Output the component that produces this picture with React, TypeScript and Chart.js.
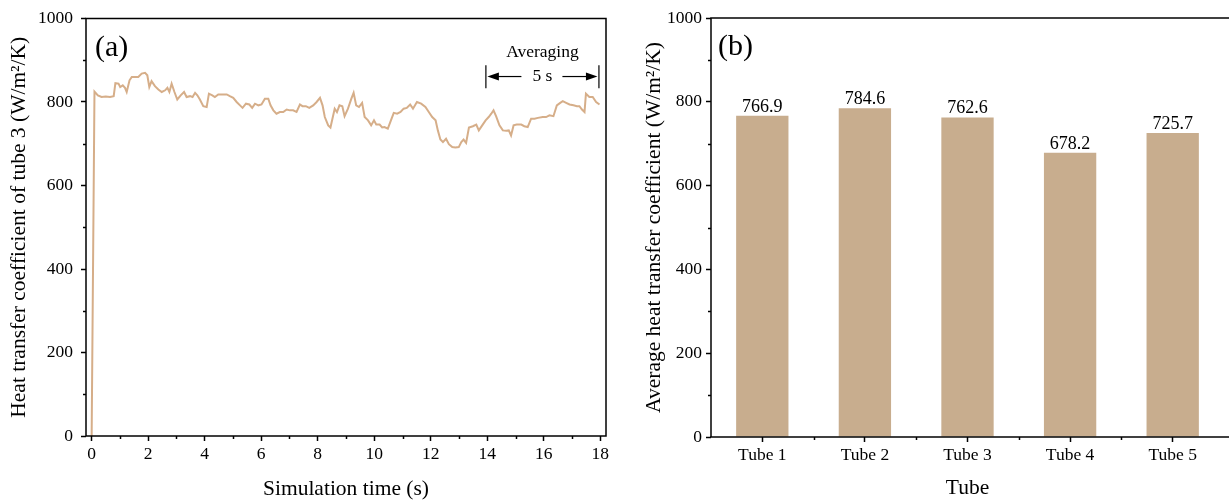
import React, { useEffect, useRef } from "react";
import { Chart, registerables } from "chart.js";

Chart.register(...registerables);

// ---------- data ----------
const TIME_S = [
  0.0, 0.1, 0.22, 0.35, 0.5, 0.65, 0.78, 0.84, 0.95, 1.01, 1.1, 1.18, 1.24, 1.34, 1.42, 1.54, 1.65, 1.77, 1.89, 1.97,
  2.04, 2.12, 2.24, 2.36, 2.48, 2.6, 2.68, 2.75, 2.83, 2.93, 3.03, 3.15, 3.27, 3.36, 3.48, 3.57, 3.66, 3.74, 3.83, 3.95,
  4.07, 4.15, 4.27, 4.36, 4.48, 4.66, 4.78, 4.89, 5.01, 5.13, 5.25, 5.34, 5.46, 5.58, 5.68, 5.78, 5.9, 6.01, 6.13, 6.25,
  6.33, 6.43, 6.54, 6.66, 6.78, 6.9, 7.02, 7.13, 7.25, 7.37, 7.46, 7.58, 7.7, 7.84, 7.96, 8.08, 8.17, 8.25, 8.37, 8.45,
  8.6, 8.68, 8.77, 8.87, 8.95, 9.07, 9.19, 9.27, 9.36, 9.46, 9.57, 9.66, 9.78, 9.89, 9.99, 10.07, 10.19, 10.28, 10.36, 10.48,
  10.6, 10.69, 10.81, 10.93, 11.04, 11.15, 11.27, 11.37, 11.51, 11.66, 11.81, 11.93, 12.05, 12.17, 12.25, 12.34, 12.43, 12.54, 12.64, 12.76,
  12.87, 12.99, 13.08, 13.16, 13.25, 13.35, 13.49, 13.61, 13.7, 13.82, 13.94, 14.05, 14.14, 14.22, 14.31, 14.43, 14.55, 14.67, 14.76, 14.84,
  14.93, 15.04, 15.2, 15.31, 15.43, 15.55, 15.67, 15.79, 15.96, 16.08, 16.2, 16.34, 16.46, 16.58, 16.67, 16.79, 16.91, 17.05, 17.17, 17.26,
  17.35, 17.44, 17.49, 17.61, 17.73, 17.85, 17.97,
];
const HTC_TUBE3 = [
  0, 825, 816, 812, 813, 812, 814, 845, 844, 836, 840, 834, 824, 852, 860, 860, 860, 868, 870, 864,
  836, 850, 838, 830, 824, 828, 834, 824, 844, 824, 806, 816, 824, 812, 814, 812, 822, 816, 806, 790,
  788, 820, 816, 812, 818, 818, 818, 814, 810, 800, 792, 786, 796, 794, 786, 796, 792, 794, 808, 808,
  792, 780, 772, 776, 776, 782, 780, 780, 776, 794, 790, 790, 786, 792, 800, 810, 792, 764, 744, 739,
  784, 776, 792, 790, 766, 784, 808, 822, 792, 788, 798, 764, 756, 744, 756, 746, 746, 739, 740, 736,
  758, 774, 772, 776, 784, 786, 794, 784, 800, 796, 788, 776, 764, 756, 732, 710, 704, 712, 699, 692,
  691, 692, 704, 710, 702, 739, 742, 746, 732, 744, 756, 764, 772, 780, 766, 744, 732, 731, 732, 720,
  744, 746, 746, 742, 740, 760, 760, 762, 764, 764, 768, 766, 792, 798, 802, 798, 794, 792, 790, 790,
  782, 776, 820, 812, 812, 800, 794,
];
const X_TICKS = [0, 2, 4, 6, 8, 10, 12, 14, 16, 18];
const X_MINOR = [1, 3, 5, 7, 9, 11, 13, 15, 17];
const Y_TICKS = [0, 200, 400, 600, 800, 1000];
const Y_MINOR = [100, 300, 500, 700, 900];

const TUBES = ["Tube 1", "Tube 2", "Tube 3", "Tube 4", "Tube 5"];
const AVG_HTC = [766.9, 784.6, 762.6, 678.2, 725.7];

// averaging window annotation (data units)
const AVG_WINDOW = [13.95, 17.95];
const AVG_BAR_RANGE = [833, 888];
const AVG_ARROW_Y = 861;
const AVG_TITLE_Y = 907;

// ---------- styles ----------
const FONT = "'Liberation Serif', 'Times New Roman', serif";
const LINE_COLOR = "#D6AE89";
const BAR_COLOR = "#C8AD8E";
const TICK_FONT = { family: FONT, size: 17.5 };
const TITLE_FONT = { family: FONT, size: 21.5, lineHeight: 1 };

Chart.defaults.font.family = FONT;
Chart.defaults.color = "#000";

function line(ctx: CanvasRenderingContext2D, x1: number, y1: number, x2: number, y2: number) {
  ctx.beginPath();
  ctx.moveTo(x1, y1);
  ctx.lineTo(x2, y2);
  ctx.stroke();
}

const plainNumber = (v: any) => String(v);

const leftDecor = {
  id: "leftDecor",
  afterDraw(chart: any) {
    const { ctx, chartArea } = chart;
    const { left, right, top, bottom } = chartArea;
    const xs = chart.scales.x;
    const ys = chart.scales.y;
    ctx.save();
    ctx.strokeStyle = "#000";
    ctx.fillStyle = "#000";
    ctx.lineWidth = 1.5;
    ctx.strokeRect(left, top, right - left, bottom - top);
    for (const v of Y_MINOR) {
      const py = Math.round(ys.getPixelForValue(v)) + 0.5;
      line(ctx, left - 3, py, left, py);
    }
    for (const v of X_MINOR) {
      const px = Math.round(xs.getPixelForValue(v)) + 0.5;
      line(ctx, px, bottom, px, bottom + 3);
    }
    // panel letter
    ctx.font = `30px ${FONT}`;
    ctx.textAlign = "left";
    ctx.textBaseline = "alphabetic";
    ctx.fillText("(a)", left + 9, top + 37);

    // averaging annotation
    const x0 = xs.getPixelForValue(AVG_WINDOW[0]);
    const x1 = xs.getPixelForValue(AVG_WINDOW[1]);
    const xm = (x0 + x1) / 2;
    const yT = ys.getPixelForValue(AVG_BAR_RANGE[1]);
    const yB = ys.getPixelForValue(AVG_BAR_RANGE[0]);
    const yM = ys.getPixelForValue(AVG_ARROW_Y);
    const yTitle = ys.getPixelForValue(AVG_TITLE_Y);
    ctx.lineWidth = 1.2;
    line(ctx, x0, yT, x0, yB);
    line(ctx, x1, yT, x1, yB);
    line(ctx, x0 + 8, yM, xm - 21, yM);
    line(ctx, xm + 20, yM, x1 - 8, yM);
    ctx.beginPath();
    ctx.moveTo(x0 + 1.5, yM);
    ctx.lineTo(x0 + 13, yM - 4);
    ctx.lineTo(x0 + 13, yM + 4);
    ctx.closePath();
    ctx.fill();
    ctx.beginPath();
    ctx.moveTo(x1 - 1.5, yM);
    ctx.lineTo(x1 - 13, yM - 4);
    ctx.lineTo(x1 - 13, yM + 4);
    ctx.closePath();
    ctx.fill();
    ctx.font = `17.5px ${FONT}`;
    ctx.textAlign = "center";
    ctx.textBaseline = "alphabetic";
    ctx.fillText("Averaging", xm, yTitle);
    ctx.textBaseline = "middle";
    ctx.fillText("5 s", xm, yM);
    ctx.restore();
  },
};

const rightDecor = {
  id: "rightDecor",
  afterDatasetsDraw(chart: any) {
    const { ctx } = chart;
    const meta = chart.getDatasetMeta(0);
    ctx.save();
    ctx.fillStyle = "#000";
    ctx.font = `18px ${FONT}`;
    ctx.textAlign = "center";
    ctx.textBaseline = "alphabetic";
    meta.data.forEach((el: any, i: number) => {
      ctx.fillText(AVG_HTC[i].toFixed(1), el.x, el.y - 4);
    });
    ctx.restore();
  },
  afterDraw(chart: any) {
    const { ctx, chartArea, width } = chart;
    const { left, top, bottom } = chartArea;
    const xs = chart.scales.x;
    const ys = chart.scales.y;
    ctx.save();
    ctx.strokeStyle = "#000";
    ctx.fillStyle = "#000";
    ctx.lineWidth = 1.5;
    line(ctx, left, top, left, bottom);
    line(ctx, left - 0.75, top, width, top);
    line(ctx, left - 0.75, bottom, width, bottom);
    for (const v of Y_MINOR) {
      const py = Math.round(ys.getPixelForValue(v)) + 0.5;
      line(ctx, left - 3, py, left, py);
    }
    for (let i = 0; i < TUBES.length - 1; i++) {
      const px = Math.round((xs.getPixelForValue(i) + xs.getPixelForValue(i + 1)) / 2) + 0.5;
      line(ctx, px, bottom, px, bottom + 3);
    }
    ctx.font = `30px ${FONT}`;
    ctx.textAlign = "left";
    ctx.textBaseline = "alphabetic";
    ctx.fillText("(b)", left + 7, top + 37);
    ctx.restore();
  },
};

const tickGrid = {
  drawOnChartArea: false,
  drawTicks: true,
  tickLength: 5,
  tickWidth: 1.5,
  tickColor: "#000",
};

function leftConfig(): any {
  return {
    type: "line",
    data: {
      datasets: [
        {
          data: TIME_S.map((t, i) => ({ x: t, y: HTC_TUBE3[i] })),
          borderColor: LINE_COLOR,
          borderWidth: 2,
          pointRadius: 0,
          fill: false,
          tension: 0,
        },
      ],
    },
    options: {
      animation: false,
      responsive: false,
      layout: { padding: { top: 18, right: 14, left: 0, bottom: 0 } },
      plugins: { legend: { display: false }, tooltip: { enabled: false } },
      scales: {
        x: {
          type: "linear",
          min: -0.2,
          max: 18.2,
          afterBuildTicks: (s: any) => {
            s.ticks = X_TICKS.map((v) => ({ value: v }));
          },
          afterFit: (s: any) => {
            s.height = 64;
          },
          grid: { ...tickGrid, offset: false },
          border: { display: false },
          ticks: { color: "#000", font: TICK_FONT, padding: 3, maxRotation: 0, autoSkip: false, callback: plainNumber },
          title: {
            display: true,
            text: "Simulation time (s)",
            color: "#000",
            font: TITLE_FONT,
            padding: { top: 0, bottom: 0 },
          },
        },
        y: {
          min: 0,
          max: 1000,
          afterBuildTicks: (s: any) => {
            s.ticks = Y_TICKS.map((v) => ({ value: v }));
          },
          afterFit: (s: any) => {
            s.width = 86;
          },
          grid: tickGrid,
          border: { display: false },
          ticks: { color: "#000", font: TICK_FONT, padding: 8, callback: plainNumber },
          title: {
            display: true,
            text: "Heat transfer coefficient of tube 3 (W/m\u00B2/K)",
            color: "#000",
            font: TITLE_FONT,
            padding: { top: 9, bottom: 0 },
          },
        },
      },
    },
    plugins: [leftDecor],
  };
}

function rightConfig(): any {
  return {
    type: "bar",
    data: {
      labels: TUBES,
      datasets: [
        {
          data: AVG_HTC,
          backgroundColor: BAR_COLOR,
          borderWidth: 0,
          barPercentage: 0.51,
          categoryPercentage: 1,
        },
      ],
    },
    options: {
      animation: false,
      responsive: false,
      layout: { padding: { top: 18, right: 5, left: 0, bottom: 0 } },
      plugins: { legend: { display: false }, tooltip: { enabled: false } },
      scales: {
        x: {
          type: "category",
          offset: true,
          afterFit: (s: any) => {
            s.height = 63;
          },
          grid: { ...tickGrid, offset: false },
          border: { display: false },
          ticks: { color: "#000", font: TICK_FONT, padding: 3, maxRotation: 0, autoSkip: false },
          title: {
            display: true,
            text: "Tube",
            color: "#000",
            font: TITLE_FONT,
            padding: { top: 0, bottom: 1 },
          },
        },
        y: {
          min: 0,
          max: 1000,
          afterBuildTicks: (s: any) => {
            s.ticks = Y_TICKS.map((v) => ({ value: v }));
          },
          afterFit: (s: any) => {
            s.width = 81;
          },
          grid: tickGrid,
          border: { display: false },
          ticks: { color: "#000", font: TICK_FONT, padding: 4, callback: plainNumber },
          title: {
            display: true,
            text: "Average heat transfer coefficient (W/m\u00B2/K)",
            color: "#000",
            font: TITLE_FONT,
            padding: { top: 14, bottom: 0 },
          },
        },
      },
    },
    plugins: [rightDecor],
  };
}

export default function App() {
  const leftRef = useRef<HTMLCanvasElement>(null);
  const rightRef = useRef<HTMLCanvasElement>(null);

  useEffect(() => {
    const c1 = new Chart(leftRef.current as HTMLCanvasElement, leftConfig());
    const c2 = new Chart(rightRef.current as HTMLCanvasElement, rightConfig());
    return () => {
      c1.destroy();
      c2.destroy();
    };
  }, []);

  return (
    <div
      style={{
        position: "fixed",
        left: 0,
        top: 0,
        width: 1229,
        height: 500,
        overflow: "hidden",
        background: "#fff",
      }}
    >
      <canvas
        ref={leftRef}
        width={620}
        height={500}
        style={{ position: "absolute", left: 0, top: 0, width: 620, height: 500 }}
      />
      <canvas
        ref={rightRef}
        width={599}
        height={500}
        style={{ position: "absolute", left: 630, top: 0, width: 599, height: 500 }}
      />
    </div>
  );
}
